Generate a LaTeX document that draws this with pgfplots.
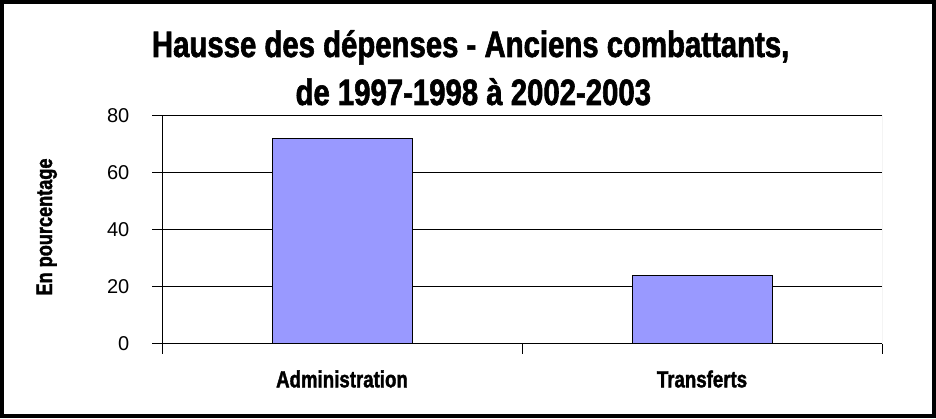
\documentclass[border=0pt]{standalone}
\usepackage{pgfplots}
\pgfplotsset{compat=1.18}
\usepackage{fontspec}
\setmainfont{Liberation Sans}
\newfontfamily\cond{Liberation Sans Bold}[FakeStretch=0.8, FakeBold=1.6]
\definecolor{barfill}{HTML}{9999FF}
\begin{document}
\begin{tikzpicture}[x=1pt,y=1pt]
\useasboundingbox (0,0) rectangle (702,313.5);
\draw[line width=3pt] (1.5,1.5) rectangle (700.5,312);
\node[anchor=base, inner sep=0] at (353,270.75) {\fontsize{27.5}{30}\selectfont\cond Hausse des dépenses - Anciens combattants,};
\node[anchor=base, inner sep=0] at (355,234.75) {\fontsize{27.5}{30}\selectfont\cond de 1997-1998 à 2002-2003};
\node[rotate=90, anchor=center, inner sep=0] at (35,143.25) {\fontsize{17}{18}\selectfont\cond En pourcentage};
\begin{axis}[
  at={(121.5pt,55.5pt)}, anchor=south west,
  width=540pt, height=171.4pt, scale only axis,
  ybar, bar width=105pt,
  xmin=-0.5, xmax=1.5, ymin=0, ymax=80,
  ytick={0,20,40,60,80},
  ymajorgrids, grid style={black, line width=0.75pt},
  axis x line*=bottom, axis y line*=left,
  axis line style={black, line width=0.75pt, -},
  tick style={black, line width=0.75pt},
  tick align=outside,
  major tick length=7.5pt,
  xtick={-0.5,0.5,1.5}, xticklabels={},
  extra x ticks={0,1}, extra x tick labels={Administration, Transferts},
  extra x tick style={major tick length=0pt, xmajorgrids=false,
    xticklabel style={font=\fontsize{17.5}{20}\selectfont\cond, anchor=base, yshift=-32.5pt}},
  yticklabel style={font=\fontsize{15}{16}\selectfont, anchor=east, xshift=-13.5pt},
  /pgf/number format/assume math mode=true,
]
\addplot[fill=barfill, draw=black, line width=0.75pt] coordinates {(0,72) (1,24)};
\draw[gray!70, line width=0.75pt] (rel axis cs:1,0) -- (rel axis cs:1,1);
\end{axis}
\end{tikzpicture}
\end{document}
